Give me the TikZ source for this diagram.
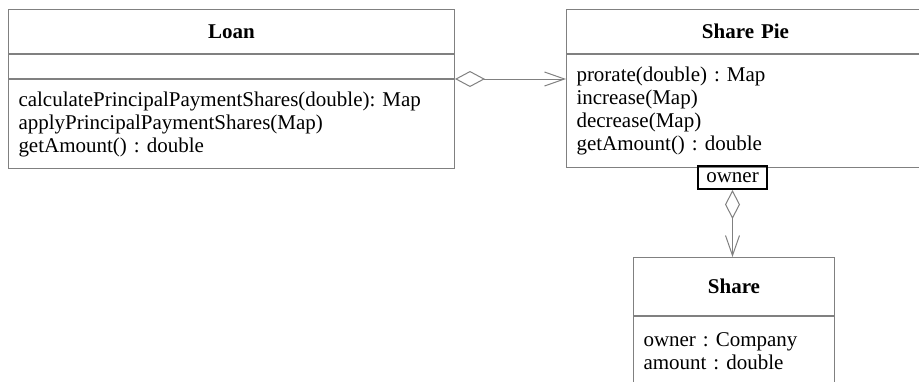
\documentclass[tikz,border=0pt]{standalone}
\usepackage{fontspec}
\setmainfont{Liberation Serif}
\usepackage{tikz}
\usetikzlibrary{arrows.meta, positioning}
\definecolor{umlgray}{RGB}{128,128,128}
\frenchspacing

\begin{document}
\begin{tikzpicture}[
  x=1pt, y=-1pt,
  font=\fontsize{21pt}{23pt}\selectfont,
  umlpart/.style={
    draw=umlgray,
    line width=1pt,
    anchor=north west,
    align=left,
    inner xsep=10pt,
    inner ysep=0pt
  },
  umlname/.style={
    umlpart,
    align=center,
    font=\fontsize{21pt}{23pt}\selectfont\bfseries
  },
  link/.style={
    draw=umlgray,
    line width=1pt,
    {Diamond[open, length=30pt, width=16pt]}-{Straight Barb[length=20pt, width=14pt]}
  },
  role/.style={
    draw=black,
    line width=2pt,
    inner sep=0pt,
    minimum width=69pt,
    minimum height=23pt
  }
]
\useasboundingbox (0,0) rectangle (919,381);
\clip (0,0) rectangle (919,381);

% Loan class
\node[umlname, text width=426pt, minimum height=44pt] (loan) at (8,9) {Loan};
\node[umlpart, text width=426pt, minimum height=24pt] (loanattr) at (loan.south west) {};
\node[umlpart, text width=426pt, minimum height=89pt] (loanops) at (loanattr.south west)
{calculatePrincipalPaymentShares(double): Map\\
applyPrincipalPaymentShares(Map)\\
getAmount() : double};

% Share Pie class
\node[umlname, text width=338pt, minimum height=44pt] (pie) at (566,9) {Share Pie};
\node[umlpart, text width=338pt, minimum height=113pt] (pieops) at (pie.south west)
{prorate(double) : Map\\
increase(Map)\\
decrease(Map)\\
getAmount() : double};

% Share class
\node[umlname, text width=181pt, minimum height=58pt] (share) at (633,257) {Share};
\node[umlpart, text width=181pt, minimum height=70pt] (shareattr) at (share.south west)
{owner : Company\\
amount : double};

% Role label
\node[role] (owner) at (732.5,177.5) {owner};

% Aggregations
\draw[link] (loanops.north east) -- (loanops.north east -| pieops.west);
\draw[link, {Diamond[open, length=29pt, width=15pt]}-{Straight Barb[length=20pt, width=14pt]}]
  (owner.south) -- (owner.south |- share.north);

\end{tikzpicture}
\end{document}
